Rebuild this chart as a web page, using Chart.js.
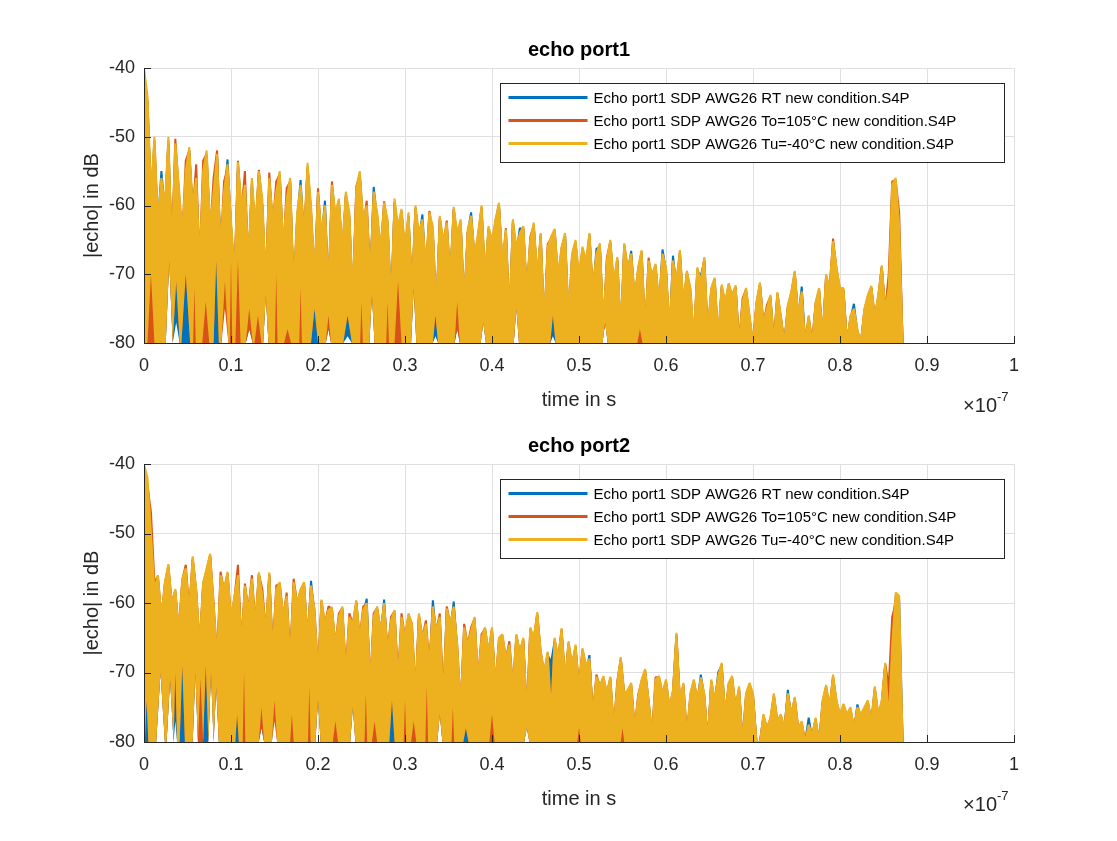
<!DOCTYPE html>
<html>
<head>
<meta charset="utf-8">
<script src="https://cdn.jsdelivr.net/npm/chart.js@4.4.1/dist/chart.umd.min.js"></script>
<style>
  html, body { margin: 0; padding: 0; background: #fff; }
  #wrap { position: relative; width: 1117px; height: 841px; }
  canvas { position: absolute; left: 0; }
  #port1 { top: 0; }
  #port2 { top: 396px; }
</style>
</head>
<body>
<div id="wrap">
  <canvas id="port1" width="1117" height="420"></canvas>
  <canvas id="port2" width="1117" height="445"></canvas>
</div>
<script>
var seriesNames = [
  'Echo port1 SDP AWG26 RT new condition.S4P',
  'Echo port1 SDP AWG26 To=105\u00B0C new condition.S4P',
  'Echo port1 SDP AWG26 Tu=-40\u00B0C new condition.S4P'
];
var seriesColors = ['#0072BD', '#D95319', '#EDB120'];

var timeStep = 0.004;

// echo port1 - upper trace
var port1Rt = [
  -42, -45, -59, -51.5, -63, -55, -61, -51, -67, -52, -58, -65, -56, -52, -61, -57, -69, -56, -53, -64, -59, -53, -67, -59, -53.3,
  -63, -71, -54.5, -61, -58, -69, -57, -64, -55.5, -60, -72, -56.5, -63, -58.5, -55.5, -67, -60, -56.5, -73, -62, -56.3, -65, -54.5, -61, -71,
  -58.5, -65, -59.3, -73, -57.5, -62, -59.5, -67, -58.5, -62, -74, -58, -55.5, -63, -60.5, -71, -57.3, -62, -67, -60, -62.5, -75, -59.5, -64, -61,
  -67, -61.5, -73, -60.5, -65, -61.3, -70, -61.5, -64, -76, -62, -66, -63, -71, -60.5, -65, -62.5, -75, -64, -61, -68, -64.5, -60.5, -71, -63.5,
  -66, -62.5, -60, -69, -64, -77, -62.5, -67, -63.3, -63.5, -73, -65.5, -63, -71, -64.5, -78, -66.5, -65, -63.8, -71, -66.5, -64.5, -77, -67.5, -65.5,
  -71, -66.5, -69, -64.5, -73, -66.3, -66, -78, -68.5, -65.5, -72, -68, -79, -66, -70, -66.6, -74, -69.5, -67, -79, -68.5, -71, -69, -75, -66.4,
  -69.5, -79, -67.3, -72, -67, -75, -70, -73, -80, -69.5, -70.3, -68, -79, -72.5, -71, -80, -72, -75, -71.8, -74, -72, -80, -74.5, -72.5, -77,
  -80, -74.5, -71.5, -77.5, -75.5, -73.5, -80, -73, -76.5, -80, -75, -73, -70, -76.5, -71.8, -80, -76.5, -80, -74.5, -72.5, -79.5, -70.5, -72.5, -65.8, -69.5,
  -72.5, -72.5, -80, -76.5, -74.3, -78.5, -80, -75.5, -73.5, -72, -76.5, -73.5, -69, -75.5, -72.5, -58, -57, -64, -80
];
var port1Hot = [
  -41, -45, -59, -50.5, -63, -56.5, -61, -50.5, -67, -50.3, -58, -65, -53.5, -52, -61, -54, -69, -53.5, -52.5, -64, -56, -52, -67, -56.5, -54.5,
  -63, -71, -53.5, -61, -55, -69, -56.5, -64, -54.8, -60, -72, -55.2, -63, -56.5, -55.5, -67, -57.5, -56.5, -73, -62, -57.5, -65, -54.3, -61, -71,
  -57.5, -65, -60.5, -73, -56.5, -62, -59.5, -67, -58.5, -61.5, -74, -57.2, -55.5, -63, -59.3, -71, -58.5, -61.5, -67, -59.4, -63, -75, -59.5, -64, -60.8,
  -67, -61.5, -73, -60.3, -65, -62.5, -70, -60.8, -64, -76, -61.8, -66, -62.2, -71, -60.5, -65, -62.5, -75, -64, -61.8, -68, -64.5, -60.2, -71, -63.3,
  -66, -62.3, -59.8, -69, -63.3, -77, -62.3, -67, -64.2, -63.2, -73, -64.6, -62.8, -71, -64.2, -78, -65.6, -64.8, -63.6, -71, -66.2, -64.3, -77, -67.3, -65.3,
  -71, -66.2, -69, -64.2, -73, -67.2, -65.7, -78, -67.6, -65.2, -72, -67.7, -79, -65.7, -69.3, -67.2, -74, -69.2, -66.7, -79, -67.6, -71, -68.7, -75, -67.2,
  -69.2, -79, -68.2, -71.2, -66.7, -75, -69.7, -72.2, -80, -69.2, -71.2, -67.7, -79, -72.2, -70.7, -80, -71.7, -74.2, -71.5, -73.2, -71.8, -80, -73.5, -72.2, -76.2,
  -80, -74.2, -71.4, -77.2, -74.5, -73.2, -80, -72.8, -76.2, -80, -74.7, -72.7, -69.7, -76.2, -72.7, -80, -76.2, -80, -74.2, -72.2, -79.2, -70.2, -72.2, -64.8, -69.2,
  -72.2, -72.2, -80, -76.2, -75.2, -78.2, -80, -75.2, -73.2, -71.9, -76.2, -73.2, -68.9, -75.2, -70, -56.5, -56.3, -61, -80
];
var port1Cold = [
  -40, -44, -58, -50, -62, -56, -60, -50, -66, -51, -57, -64, -55, -51.5, -60, -56, -68, -55, -52, -63, -58, -52.5, -66, -58, -54,
  -62, -70, -53.7, -60, -57, -68, -56, -63, -55, -59, -71, -56, -62, -58, -55, -66, -59, -56, -72, -61, -57, -64, -53.8, -60, -70,
  -58, -64, -60, -72, -57, -61, -59, -66, -58, -61, -73, -57.5, -55, -62, -60, -70, -58, -61, -66, -59.6, -62, -74, -59, -63, -60.5,
  -66, -61, -72, -60, -64, -62, -69, -61, -63, -75, -61.5, -65, -62.5, -70, -60.2, -64, -62, -74, -63.5, -61.5, -67, -64, -60, -70, -63,
  -65, -62, -59.6, -68, -63.5, -76, -62, -66, -64, -63, -72, -65, -62.5, -70, -64, -77, -66, -64.5, -63.4, -70, -66, -64, -76, -67, -65,
  -70, -66, -68, -64, -72, -67, -65.5, -77, -68, -65, -71, -67.5, -78, -65.5, -69, -67, -73, -69, -66.5, -78, -68, -70, -68.5, -74, -67,
  -69, -78, -68, -71, -66.5, -74, -69.5, -72, -79, -69, -71, -67.5, -78, -72, -70.5, -79, -71.5, -74, -71.3, -73, -71.6, -80, -74, -72, -76,
  -80, -74, -71.2, -77, -75, -73, -80, -72.6, -76, -80, -74.5, -72.5, -69.5, -76, -72.5, -80, -76, -80, -74, -72, -79, -70, -72, -65.2, -69,
  -72, -72, -80, -76, -75, -78, -80, -75, -73, -71.7, -76, -73, -68.7, -75, -72, -57, -56, -63, -80
];
// echo port1 - dips that lift off the -80 floor: [time, level reached, half width]
var port1RtGaps = [
  [0.008, -72, 0.003], [0.029, -68, 0.004], [0.037, -77, 0.004], [0.093, -71, 0.004], [0.121, -78, 0.004],
  [0.14, -73, 0.003], [0.212, -78, 0.003], [0.234, -79, 0.005], [0.262, -73, 0.003], [0.31, -72, 0.003],
  [0.335, -79, 0.003], [0.36, -78, 0.003], [0.39, -77, 0.003], [0.428, -75, 0.003], [0.47, -79, 0.003],
  [0.53, -77, 0.003]
];
var port1HotGaps = [
  [0.029, -68, 0.004], [0.037, -71, 0.004], [0.048, -70, 0.005], [0.083, -68, 0.003], [0.093, -75, 0.004],
  [0.121, -78, 0.004], [0.14, -73, 0.003], [0.196, -75, 0.004], [0.212, -78, 0.003], [0.234, -76, 0.005],
  [0.262, -73, 0.003], [0.31, -72, 0.003], [0.335, -76, 0.003], [0.36, -78, 0.003], [0.39, -77, 0.003],
  [0.428, -75, 0.003], [0.47, -76, 0.003], [0.53, -77, 0.003]
];
var port1ColdGaps = [
  [0.008, -70, 0.004], [0.029, -68, 0.004], [0.037, -71, 0.004], [0.048, -70, 0.005], [0.058, -72, 0.0015],
  [0.071, -74, 0.004], [0.083, -68, 0.003], [0.093, -71, 0.004], [0.1, -68, 0.0015], [0.108, -68, 0.003],
  [0.121, -75, 0.004], [0.131, -76, 0.004], [0.14, -73, 0.003], [0.152, -70, 0.0015], [0.165, -78, 0.004],
  [0.18, -72, 0.0015], [0.196, -75, 0.004], [0.212, -76, 0.003], [0.234, -76, 0.005], [0.25, -74, 0.0015],
  [0.262, -73, 0.003], [0.28, -74, 0.0015], [0.292, -71, 0.004], [0.31, -72, 0.003], [0.335, -76, 0.003],
  [0.36, -74, 0.003], [0.39, -77, 0.003], [0.428, -75, 0.003], [0.47, -76, 0.003], [0.53, -77, 0.003],
  [0.57, -78, 0.003]
];

// echo port2 - upper trace
var port2Rt = [
  -43, -43, -50, -59, -56.5, -63, -57.5, -55, -61, -58.5, -65, -57, -55.5, -62, -53.8, -58.5, -67, -57.5, -55.5, -53.3, -61, -69, -56.5, -58.5, -56,
  -63, -59.5, -56.5, -67, -58, -62, -57, -64, -56, -59.5, -65, -56, -68, -58.5, -57.5, -63, -59.5, -69, -57.5, -61, -58.5, -57.5, -66, -56.8, -62,
  -71, -60, -64, -61.5, -61, -67, -62.5, -61, -71, -62.5, -64, -60, -66, -61.5, -59.4, -73, -62.5, -61, -65, -59.5, -68, -63, -61.5, -72, -62.5,
  -66, -62, -64, -74, -62, -66, -63.5, -70, -59.6, -65, -62.5, -75, -61, -64, -59.8, -67, -76, -64, -67, -64.5, -62.5, -72, -65.5, -64, -68,
  -64, -73, -65.5, -65, -68.5, -66.5, -73, -65, -67.5, -65.5, -77, -64, -65.5, -61.8, -68, -70.5, -67.5, -68.5, -65.5, -68.5, -64, -72, -66, -70, -66.5,
  -73, -67, -70, -67.5, -77, -71, -72.5, -71, -73.5, -71, -79, -72, -68.2, -73.5, -73, -72, -79, -74, -71.5, -70, -74.5, -80, -71.5, -71, -73.5,
  -71.5, -76, -73, -64.8, -74.5, -72, -80, -73.5, -71.5, -74.5, -70.3, -73.5, -80, -71.5, -74.5, -70, -69, -76.5, -72, -71, -75.5, -72.5, -80, -73.5, -72,
  -73.5, -80, -80, -76.5, -78.5, -77, -73.5, -77.5, -76.5, -78.5, -72.5, -76.5, -74, -78.5, -77.5, -80, -76.5, -79.5, -77, -80, -74.5, -72.3, -75.5, -70.8, -74.5,
  -76.5, -75, -76.5, -75.5, -78.5, -74.6, -76.5, -75.5, -74.5, -77.5, -72.5, -76.5, -74.5, -69, -77.5, -64, -59, -59.5, -80
];
var port2Hot = [
  -41, -43, -47, -57, -56.2, -62, -57.2, -54.6, -60, -58.2, -64, -56.7, -54.5, -61, -53.5, -58.2, -66, -57.2, -55.2, -53.1, -60, -68, -55.5, -58.2, -55.7,
  -62.2, -59.2, -54.5, -66, -57.2, -61, -56, -63, -55.8, -58, -64, -55.8, -67, -57.5, -57.2, -62, -58.5, -68, -56.5, -60, -58.2, -57.2, -65, -57.7, -61,
  -70, -59.7, -63, -60.5, -60.8, -66, -61.5, -60.7, -70, -61.5, -63, -59.8, -65, -60.5, -60.2, -72, -61.5, -60.7, -64, -60.2, -67, -62, -61.2, -71, -61.5,
  -65, -61.7, -63, -73, -61.7, -65, -62.5, -69, -60.7, -64, -61.5, -74, -60.5, -63, -60.7, -66, -75, -63, -66, -63.5, -62.2, -71, -64.5, -63.7, -67,
  -63.7, -72, -65.2, -64.7, -68, -65.5, -72, -64.7, -67, -65.2, -76, -63.7, -65.2, -61.5, -67, -70, -67.2, -76, -65.2, -68, -63.8, -71, -65.7, -69, -66.2,
  -72, -66.7, -69, -68.2, -76, -70.3, -72, -70.7, -73, -70.8, -78, -71.2, -68, -73, -72.7, -71.7, -78, -73.2, -71.2, -69.7, -74, -79, -70.7, -70.7, -73,
  -71.2, -75, -72.7, -64.5, -74, -71.7, -79, -73.2, -71.2, -74, -70.9, -73.2, -80, -71.2, -74, -70.7, -68.8, -76, -71.7, -70.7, -75, -72.2, -80, -73.2, -71.7,
  -73.2, -80, -80, -76.2, -78, -76.7, -73.2, -77, -76.2, -78, -73.2, -76, -73.7, -78, -77.2, -80, -77.7, -79, -76.7, -80, -74.2, -72, -75, -70.5, -74.2,
  -76.2, -74.7, -76.2, -75.2, -78, -75.2, -76.2, -75.2, -74.2, -77, -72.2, -76.2, -74.2, -68.8, -72, -62, -60, -63, -80
];
var port2Cold = [
  -40, -42, -50, -58, -56, -62, -57, -54.4, -60, -58, -64, -56.5, -55, -61, -53.3, -58, -66, -57, -55, -52.9, -60, -68, -56, -58, -55.5,
  -62, -59, -56, -66, -57.5, -61, -56.5, -63, -55.6, -59, -64, -55.6, -67, -58, -57, -62, -59, -68, -57, -60, -58, -57, -65, -57.5, -61,
  -70, -59.5, -63, -61, -60.6, -66, -62, -60.5, -70, -62, -63, -59.6, -65, -61, -60, -72, -62, -60.5, -64, -60, -67, -62.5, -61, -71, -62,
  -65, -61.5, -63, -73, -61.5, -65, -63, -69, -60.5, -64, -62, -74, -60.8, -63, -60.5, -66, -75, -63.5, -66, -64, -62, -71, -65, -63.5, -67,
  -63.5, -72, -65, -64.5, -68, -66, -72, -64.5, -67, -65, -76, -63.5, -65, -61.3, -67, -70, -67, -76, -65, -68, -63.6, -71, -65.5, -69, -66,
  -72, -66.5, -69, -68, -76, -70.6, -72, -70.5, -73, -70.6, -78, -71.5, -67.8, -73, -72.5, -71.5, -78, -73.5, -71, -69.5, -74, -79, -71, -70.5, -73,
  -71, -75, -72.5, -64.3, -74, -71.5, -79, -73, -71, -74, -70.7, -73, -80, -71, -74, -70.5, -68.6, -76, -71.5, -70.5, -75, -72, -80, -73, -71.5,
  -73, -80, -80, -76, -78, -76.5, -73, -77, -76, -78, -73, -76, -73.5, -78, -77, -80, -77.5, -79, -76.5, -80, -74, -71.8, -75, -70.3, -74,
  -76, -74.5, -76, -75, -78, -75, -76, -75, -74, -77, -72, -76, -74, -68.6, -77, -66, -58.5, -59, -80
];
var port2RtGaps = [
  [0.019, -70, 0.005], [0.03, -71, 0.004], [0.036, -77, 0.002], [0.059, -70, 0.003], [0.077, -70, 0.003],
  [0.083, -72, 0.003], [0.135, -78, 0.003], [0.15, -74, 0.003], [0.2, -74, 0.003], [0.24, -75, 0.003],
  [0.34, -76, 0.003], [0.44, -78, 0.003]
];
var port2HotGaps = [
  [0.003, -74, 0.002], [0.019, -70, 0.005], [0.03, -71, 0.004], [0.036, -70, 0.002], [0.044, -69, 0.003],
  [0.059, -70, 0.003], [0.071, -69, 0.003], [0.077, -70, 0.003], [0.083, -72, 0.003], [0.107, -76, 0.002],
  [0.135, -78, 0.003], [0.15, -77, 0.003], [0.2, -74, 0.003], [0.24, -75, 0.003], [0.285, -74, 0.003],
  [0.34, -76, 0.003], [0.37, -78, 0.003], [0.44, -78, 0.003]
];
var port2ColdGaps = [
  [0.003, -74, 0.002], [0.019, -70, 0.005], [0.03, -71, 0.004], [0.036, -70, 0.002], [0.044, -69, 0.003],
  [0.059, -70, 0.003], [0.065, -71, 0.003], [0.071, -69, 0.003], [0.077, -70, 0.003], [0.083, -72, 0.003],
  [0.107, -76, 0.002], [0.115, -70, 0.0015], [0.135, -75, 0.003], [0.15, -74, 0.003], [0.17, -76, 0.002],
  [0.19, -72, 0.0015], [0.2, -74, 0.003], [0.22, -77, 0.003], [0.24, -75, 0.003], [0.255, -73, 0.0015],
  [0.265, -77, 0.003], [0.285, -74, 0.003], [0.3, -74, 0.0015], [0.31, -77, 0.003], [0.325, -72, 0.0015],
  [0.34, -76, 0.003], [0.355, -75, 0.0015], [0.37, -78, 0.003], [0.4, -76, 0.003], [0.44, -78, 0.003],
  [0.5, -78, 0.002], [0.55, -78, 0.002]
];

var FONT = '"Liberation Sans", Arial, Helvetica, sans-serif';
var AXIS = '#262626';
var GRID = '#dfdfdf';
var FLOOR = -80;

function toPoints(vals) {
  var pts = [];
  for (var i = 0; i < vals.length; i++) {
    pts.push({ x: +(i * timeStep).toFixed(3), y: vals[i] });
  }
  return pts;
}

// lower edge of the trace band: the -80 floor with the dips cut into it
function floorPoints(gaps, lastIndex) {
  var pts = [{ x: 0, y: FLOOR }];
  gaps.forEach(function(g) {
    pts.push({ x: g[0] - g[2], y: FLOOR });
    pts.push({ x: g[0], y: g[1] });
    pts.push({ x: g[0] + g[2], y: FLOOR });
  });
  pts.push({ x: +(lastIndex * timeStep).toFixed(3), y: FLOOR });
  return pts;
}

// inner tick marks, boxed legend and the x10^-7 exponent, matlab style
var matlabLook = {
  id: 'matlabLook',
  afterDraw: function(chart) {
    var ctx = chart.ctx;
    var area = chart.chartArea;
    var xs = chart.scales.x, ys = chart.scales.y;
    ctx.save();
    ctx.strokeStyle = AXIS;
    ctx.lineWidth = 1;
    ctx.beginPath();
    xs.ticks.forEach(function(t) {
      var px = Math.round(xs.getPixelForValue(t.value)) + 0.5;
      ctx.moveTo(px, area.bottom);
      ctx.lineTo(px, area.bottom - 7);
    });
    ys.ticks.forEach(function(t) {
      var py = Math.round(ys.getPixelForValue(t.value)) + 0.5;
      ctx.moveTo(area.left, py);
      ctx.lineTo(area.left + 7, py);
    });
    ctx.stroke();

    // legend box
    var bw = 504, bh = 79;
    var bx = Math.round(area.right - 10 - bw) + 0.5;
    var by = Math.round(area.top + 15) + 0.5;
    ctx.fillStyle = '#fff';
    ctx.fillRect(bx, by, bw, bh);
    ctx.strokeStyle = AXIS;
    ctx.strokeRect(bx, by, bw, bh);
    ctx.font = '15px ' + FONT;
    ctx.textBaseline = 'middle';
    ctx.textAlign = 'left';
    var row = 0;
    chart.data.datasets.forEach(function(ds) {
      if (!ds.label) return;
      var cy = by + 14 + row * 23;
      ctx.strokeStyle = ds.borderColor;
      ctx.lineWidth = 3;
      ctx.beginPath();
      ctx.moveTo(bx + 8, cy);
      ctx.lineTo(bx + 87, cy);
      ctx.stroke();
      ctx.fillStyle = '#000';
      ctx.fillText(ds.label, bx + 93, cy + 1);
      row++;
    });

    // exponent
    ctx.fillStyle = AXIS;
    ctx.textBaseline = 'alphabetic';
    ctx.textAlign = 'right';
    ctx.font = '20px ' + FONT;
    ctx.fillText('\u00D710', area.right - 17, area.bottom + 69);
    ctx.textAlign = 'left';
    ctx.font = '13px ' + FONT;
    ctx.fillText('-7', area.right - 17, area.bottom + 58);
    ctx.restore();
  }
};

function bandSets(name, color, upper, gaps, order) {
  return [
    { label: name, data: toPoints(upper), borderColor: color, backgroundColor: color,
      borderWidth: 2, fill: '+1', order: order },
    { label: '', data: floorPoints(gaps, upper.length - 1), borderColor: 'rgba(0,0,0,0)',
      borderWidth: 1, fill: false, order: order }
  ];
}

function makeChart(id, titleText, rt, hot, cold, rtGaps, hotGaps, coldGaps, bottomPad) {
  var sets = []
    .concat(bandSets(seriesNames[0], seriesColors[0], rt, rtGaps, 3))
    .concat(bandSets(seriesNames[1], seriesColors[1], hot, hotGaps, 2))
    .concat(bandSets(seriesNames[2], seriesColors[2], cold, coldGaps, 1));
  return new Chart(document.getElementById(id), {
    type: 'line',
    data: { datasets: sets },
    options: {
      responsive: false,
      animation: false,
      devicePixelRatio: 1,
      layout: { padding: { left: 60, right: 103, top: 38, bottom: bottomPad } },
      elements: {
        line: { tension: 0, borderJoinStyle: 'bevel' },
        point: { radius: 0 }
      },
      datasets: { line: { clip: 0 } },
      scales: {
        x: {
          type: 'linear',
          min: 0,
          max: 1,
          afterFit: function(s) { s.height = 77; },
          grid: { color: GRID, drawTicks: false },
          border: { color: AXIS, z: 1 },
          ticks: {
            stepSize: 0.1,
            autoSkip: false,
            maxRotation: 0,
            padding: 12,
            color: AXIS,
            font: { family: FONT, size: 18 },
            callback: function(v) { return String(Math.round(v * 10) / 10); }
          },
          title: {
            display: true,
            text: 'time in s',
            color: AXIS,
            font: { family: FONT, size: 20 },
            padding: { top: 0, bottom: 8 }
          }
        },
        y: {
          min: -80,
          max: -40,
          afterFit: function(s) { s.width = 84; },
          grid: { color: GRID, drawTicks: false },
          border: { color: AXIS, z: 1 },
          ticks: {
            stepSize: 10,
            padding: 9,
            color: AXIS,
            font: { family: FONT, size: 18 }
          },
          title: {
            display: true,
            text: '|echo| in dB',
            color: AXIS,
            font: { family: FONT, size: 20 },
            padding: { top: 20, bottom: 0 }
          }
        }
      },
      plugins: {
        legend: { display: false },
        tooltip: { enabled: false },
        filler: { propagate: false },
        title: {
          display: true,
          text: titleText,
          fullSize: false,
          color: '#000',
          font: { family: FONT, size: 20, weight: 'bold' },
          padding: { top: 0, bottom: 6 }
        }
      }
    },
    plugins: [matlabLook]
  });
}

makeChart('port1', 'echo port1', port1Rt, port1Hot, port1Cold, port1RtGaps, port1HotGaps, port1ColdGaps, 0);
makeChart('port2', 'echo port2', port2Rt, port2Hot, port2Cold, port2RtGaps, port2HotGaps, port2ColdGaps, 22);
</script>
</body>
</html>
